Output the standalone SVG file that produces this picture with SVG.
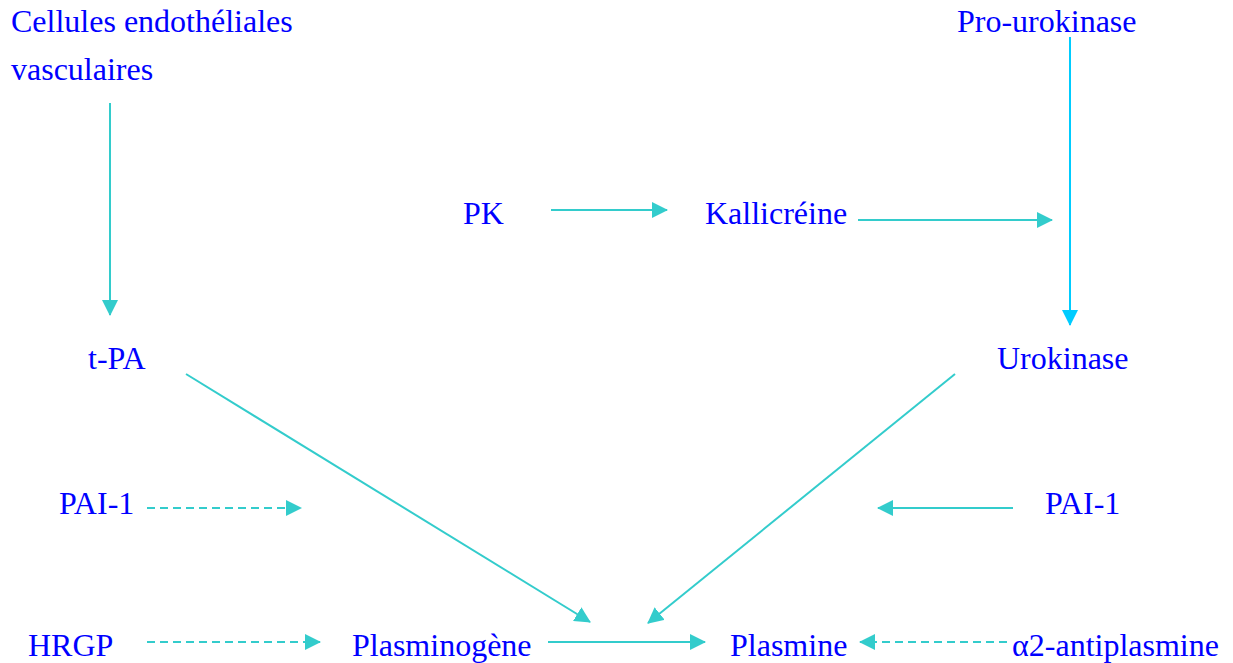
<svg xmlns="http://www.w3.org/2000/svg" width="1233" height="663" viewBox="0 0 1233 663">
<style>
text{font-family:"Liberation Serif","Times New Roman",serif;font-size:32px;fill:#0000FF}
.c{stroke:#33CCCC;stroke-width:2;fill:none}
.b{stroke:#00CCFF;stroke-width:2;fill:none}
.d{stroke-dasharray:8,5}
</style>
<defs>
<marker id="ah" markerUnits="userSpaceOnUse" markerWidth="16" markerHeight="16" refX="15" refY="8" orient="auto"><path d="M0,0 L16,8 L0,16 z" fill="#33CCCC"/></marker>
<marker id="ahb" markerUnits="userSpaceOnUse" markerWidth="16" markerHeight="16" refX="15" refY="8" orient="auto"><path d="M0,0 L16,8 L0,16 z" fill="#00CCFF"/></marker>
</defs>
<rect width="1233" height="663" fill="#fff"/>
<g id="connectors">
<line class="c" x1="110" y1="103" x2="110" y2="315" marker-end="url(#ah)"/>
<line class="b" x1="1070" y1="37" x2="1070" y2="325" marker-end="url(#ahb)"/>
<line class="c" x1="551" y1="210" x2="667" y2="210" marker-end="url(#ah)"/>
<line class="c" x1="858" y1="220" x2="1052" y2="220" marker-end="url(#ah)"/>
<line class="c" x1="186" y1="374" x2="590" y2="622" marker-end="url(#ah)"/>
<line class="c" x1="955" y1="374" x2="648" y2="623" marker-end="url(#ah)"/>
<line class="c d" x1="147" y1="508" x2="301" y2="508" marker-end="url(#ah)"/>
<line class="c" x1="1013" y1="508" x2="878" y2="508" marker-end="url(#ah)"/>
<line class="c d" x1="147" y1="642" x2="320" y2="642" marker-end="url(#ah)"/>
<line class="c" x1="548" y1="642" x2="705" y2="642" marker-end="url(#ah)"/>
<line class="c d" x1="1007" y1="642" x2="860" y2="642" marker-end="url(#ah)"/>
</g>
<g id="cellules"><text x="11" y="32">Cellules endothéliales</text><text x="11" y="80">vasculaires</text></g>
<g id="prourokinase"><text x="957" y="32">Pro-urokinase</text></g>
<g id="pk"><text x="463" y="224">PK</text></g>
<g id="kallicreine"><text x="705" y="224">Kallicréine</text></g>
<g id="tpa"><text x="88" y="369">t-PA</text></g>
<g id="urokinase"><text x="997" y="369">Urokinase</text></g>
<g id="pai1-left"><text x="59" y="514">PAI-1</text></g>
<g id="pai1-right"><text x="1045" y="514">PAI-1</text></g>
<g id="hrgp"><text x="28" y="656">HRGP</text></g>
<g id="plasminogene"><text x="352" y="656">Plasminogène</text></g>
<g id="plasmine"><text x="730" y="656">Plasmine</text></g>
<g id="antiplasmine"><text x="1012" y="656">α2-antiplasmine</text></g>
</svg>
